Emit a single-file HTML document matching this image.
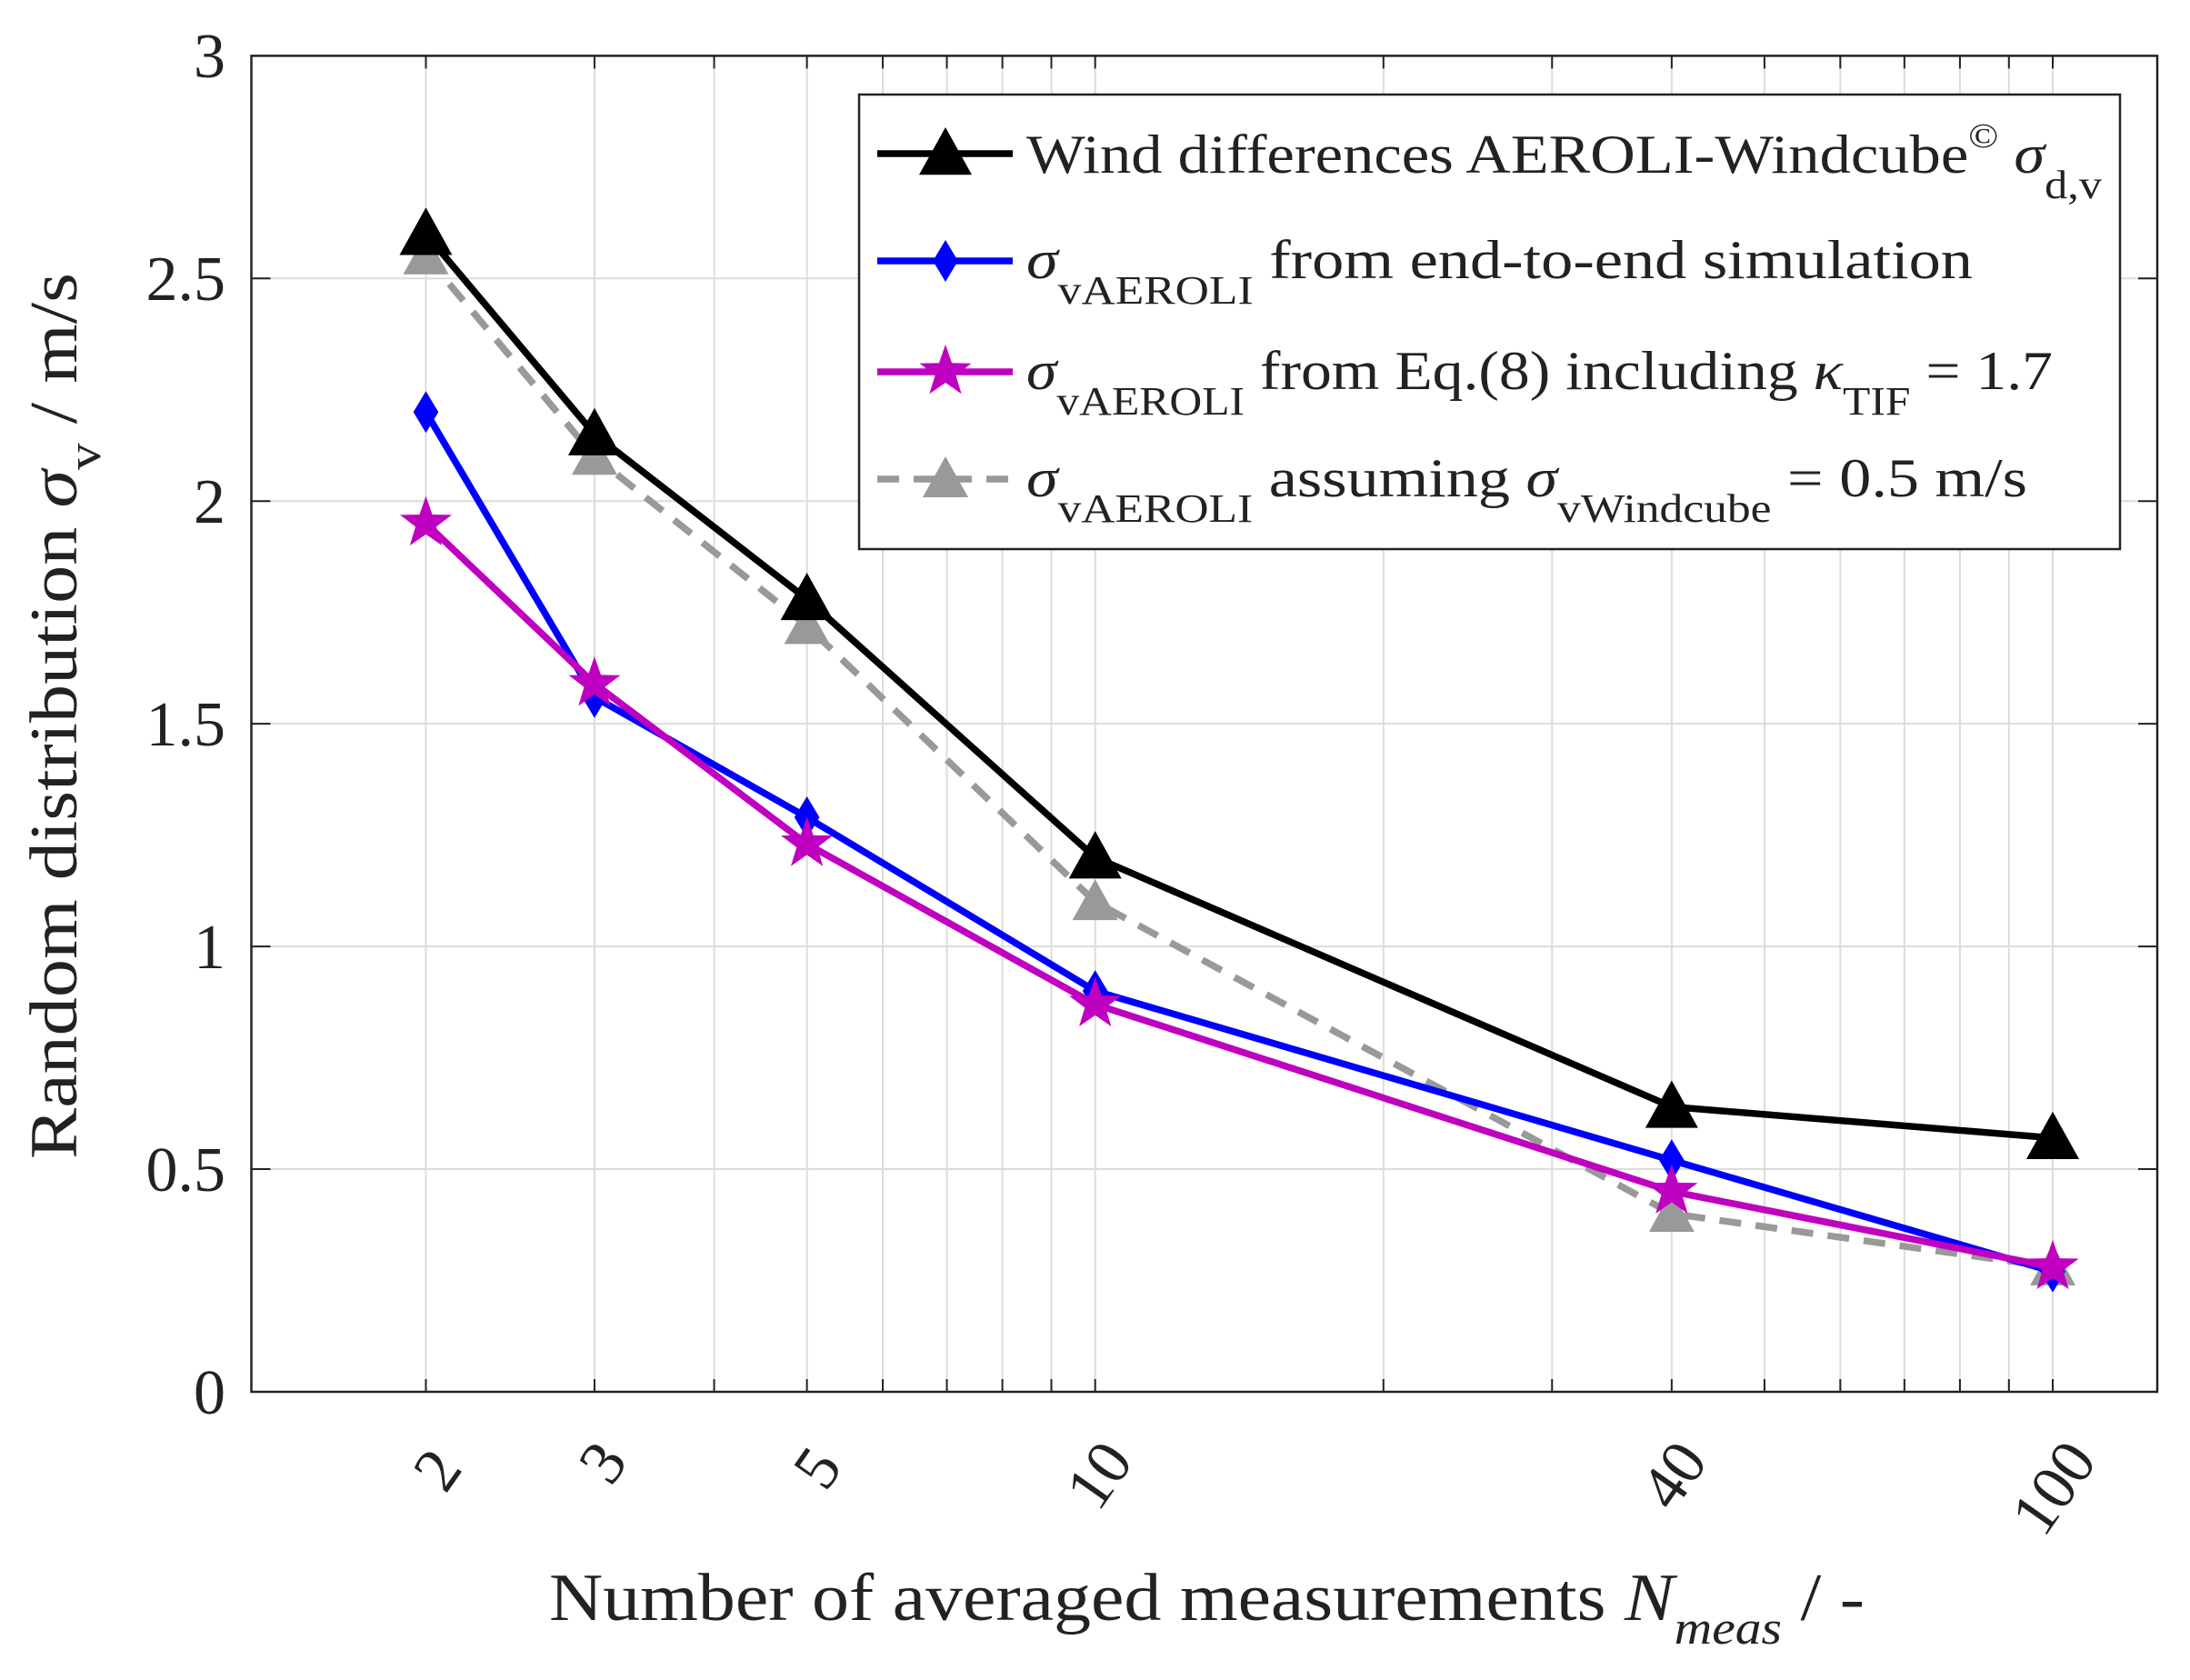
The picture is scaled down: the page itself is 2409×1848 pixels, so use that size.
<!DOCTYPE html>
<html><head><meta charset="utf-8"><style>
html,body{margin:0;padding:0;background:#fff}
svg{display:block}
text{font-family:"Liberation Serif",serif;fill:#222}
</style></head><body>
<svg id="s" width="2409" height="1848" viewBox="0 0 2409 1848" xmlns="http://www.w3.org/2000/svg">
<g id="grid"></g>
<g id="series"></g>
<rect x="276.5" y="61.4" width="2096.5" height="1469.6" fill="none" stroke="#222" stroke-width="2.5"/>
<g font-size="70" text-anchor="end">
<text x="248" y="1555">0</text>
<text x="248" y="1310">0.5</text>
<text x="248" y="1065">1</text>
<text x="248" y="820">1.5</text>
<text x="248" y="575">2</text>
<text x="248" y="330">2.5</text>
<text x="248" y="85">3</text>
</g>
<g font-size="70" text-anchor="middle">
<text transform="translate(500,1630) rotate(-55)">2</text>
<text transform="translate(682,1622) rotate(-55)">3</text>
<text transform="translate(918,1628) rotate(-55)">5</text>
<text transform="translate(1228,1636) rotate(-55)">10</text>
<text transform="translate(1860,1636) rotate(-55)">40</text>
<text transform="translate(2278,1650) rotate(-55)">100</text>
</g>
<text x="604" y="1782" font-size="74" textLength="1447" lengthAdjust="spacingAndGlyphs">Number of averaged measurements <tspan font-style="italic">N</tspan><tspan font-style="italic" font-size="52" dy="26">meas</tspan><tspan dy="-26"> / -</tspan></text>
<text transform="translate(84,1275) rotate(-90)" font-size="74" textLength="975" lengthAdjust="spacingAndGlyphs">Random distribution <tspan font-style="italic">σ</tspan><tspan font-size="52" dy="26">v</tspan><tspan dy="-26">  / m/s</tspan></text>
<rect x="945" y="104" width="1387" height="500" fill="#fff" stroke="#222" stroke-width="2.5"/>
<g id="leg"></g>
<g font-size="60">
<text x="1129" y="190" textLength="1183" lengthAdjust="spacingAndGlyphs">Wind differences AEROLI-Windcube<tspan font-size="38" dy="-28">©</tspan><tspan dy="28"> </tspan><tspan font-style="italic">σ</tspan><tspan font-size="44" dy="28">d,v</tspan></text>
<text x="1129" y="306" textLength="1041" lengthAdjust="spacingAndGlyphs"><tspan font-style="italic">σ</tspan><tspan font-size="44" dy="28">vAEROLI</tspan><tspan dy="-28">  from end-to-end simulation</tspan></text>
<text x="1129" y="428" textLength="1129" lengthAdjust="spacingAndGlyphs"><tspan font-style="italic">σ</tspan><tspan font-size="44" dy="28">vAEROLI</tspan><tspan dy="-28"> from Eq.(8) including </tspan><tspan font-style="italic">κ</tspan><tspan font-size="44" dy="28">TIF</tspan><tspan dy="-28"> = 1.7</tspan></text>
<text x="1129" y="546" textLength="1101" lengthAdjust="spacingAndGlyphs"><tspan font-style="italic">σ</tspan><tspan font-size="44" dy="28">vAEROLI</tspan><tspan dy="-28"> assuming </tspan><tspan font-style="italic">σ</tspan><tspan font-size="44" dy="28">vWindcube</tspan><tspan dy="-28"> = 0.5 m/s</tspan></text>
</g>
</svg>
<script>
var NS="http://www.w3.org/2000/svg";
function el(p,t,a){var e=document.createElementNS(NS,t);for(var k in a)e.setAttribute(k,a[k]);p.appendChild(e);return e;}
var L0=276.5,R0=2373,T0=61.4,B0=1531;
function X(n){return 151.4+1053.3*Math.log10(n);}
function Y(v){return B0-v*489.9;}
var g=document.getElementById('grid');
var minors=[2,3,4,5,6,7,8,9,10,20,30,40,50,60,70,80,90,100];
minors.forEach(function(n){var x=X(n);
 el(g,'line',{x1:x,x2:x,y1:T0,y2:B0,stroke:'#dcdcdc','stroke-width':2});
 el(g,'line',{x1:x,x2:x,y1:B0,y2:B0-14,stroke:'#222','stroke-width':2});
 el(g,'line',{x1:x,x2:x,y1:T0,y2:T0+14,stroke:'#222','stroke-width':2});});
for(var i=1;i<6;i++){var y=Y(i*0.5);
 el(g,'line',{x1:L0,x2:R0,y1:y,y2:y,stroke:'#dcdcdc','stroke-width':2});
 el(g,'line',{x1:L0,x2:L0+21,y1:y,y2:y,stroke:'#222','stroke-width':2});
 el(g,'line',{x1:R0-21,x2:R0,y1:y,y2:y,stroke:'#222','stroke-width':2});}
var N=[2,3,5,10,40,100];
var S=[
 {c:'#999',d:[2.55,2.1,1.72,1.1,0.4,0.28],m:'tri',dash:'24,16',ms:25},
 {c:'#0000ff',d:[2.2,1.56,1.29,0.9,0.52,0.27],m:'dia',ms:23},
 {c:'#c000c0',d:[1.95,1.59,1.23,0.87,0.45,0.28],m:'star',ms:30},
 {c:'#000',d:[2.6,2.15,1.78,1.2,0.64,0.57],m:'tri',ms:29}
];
function marker(p,m,x,y,s,c){
 if(m=='tri')el(p,'polygon',{points:(x-s)+','+(y+s*0.8)+' '+(x+s)+','+(y+s*0.8)+' '+x+','+(y-s),fill:c});
 else if(m=='dia')el(p,'polygon',{points:x+','+(y-s)+' '+(x+s*0.6)+','+y+' '+x+','+(y+s)+' '+(x-s*0.6)+','+y,fill:c});
 else{var pts=[];for(var k=0;k<10;k++){var r=k%2?s*0.4:s;var a=-Math.PI/2+k*Math.PI/5;pts.push((x+r*Math.cos(a))+','+(y+r*Math.sin(a)));}
  el(p,'polygon',{points:pts.join(' '),fill:c});}
}
var sg=document.getElementById('series');
S.forEach(function(s){var pts=N.map(function(n,i){return X(n)+','+Y(s.d[i]);}).join(' ');
 var a={points:pts,fill:'none',stroke:s.c,'stroke-width':7.5,'stroke-linejoin':'round'};if(s.dash)a['stroke-dasharray']=s.dash;
 el(sg,'polyline',a);
 N.forEach(function(n,i){marker(sg,s.m,X(n),Y(s.d[i]),s.ms,s.c);});});
var lg=document.getElementById('leg');
var L=[[169,'#000','tri',null,29],[287,'#0000ff','dia',null,23],[409,'#c000c0','star',null,30],[527,'#999','tri','24,16',25]];
L.forEach(function(l){var a={x1:965,x2:1114,y1:l[0],y2:l[0],stroke:l[1],'stroke-width':7.5};if(l[3])a['stroke-dasharray']=l[3];
 el(lg,'line',a);marker(lg,l[2],1040,l[0],l[4],l[1]);});
</script>
</body></html>
